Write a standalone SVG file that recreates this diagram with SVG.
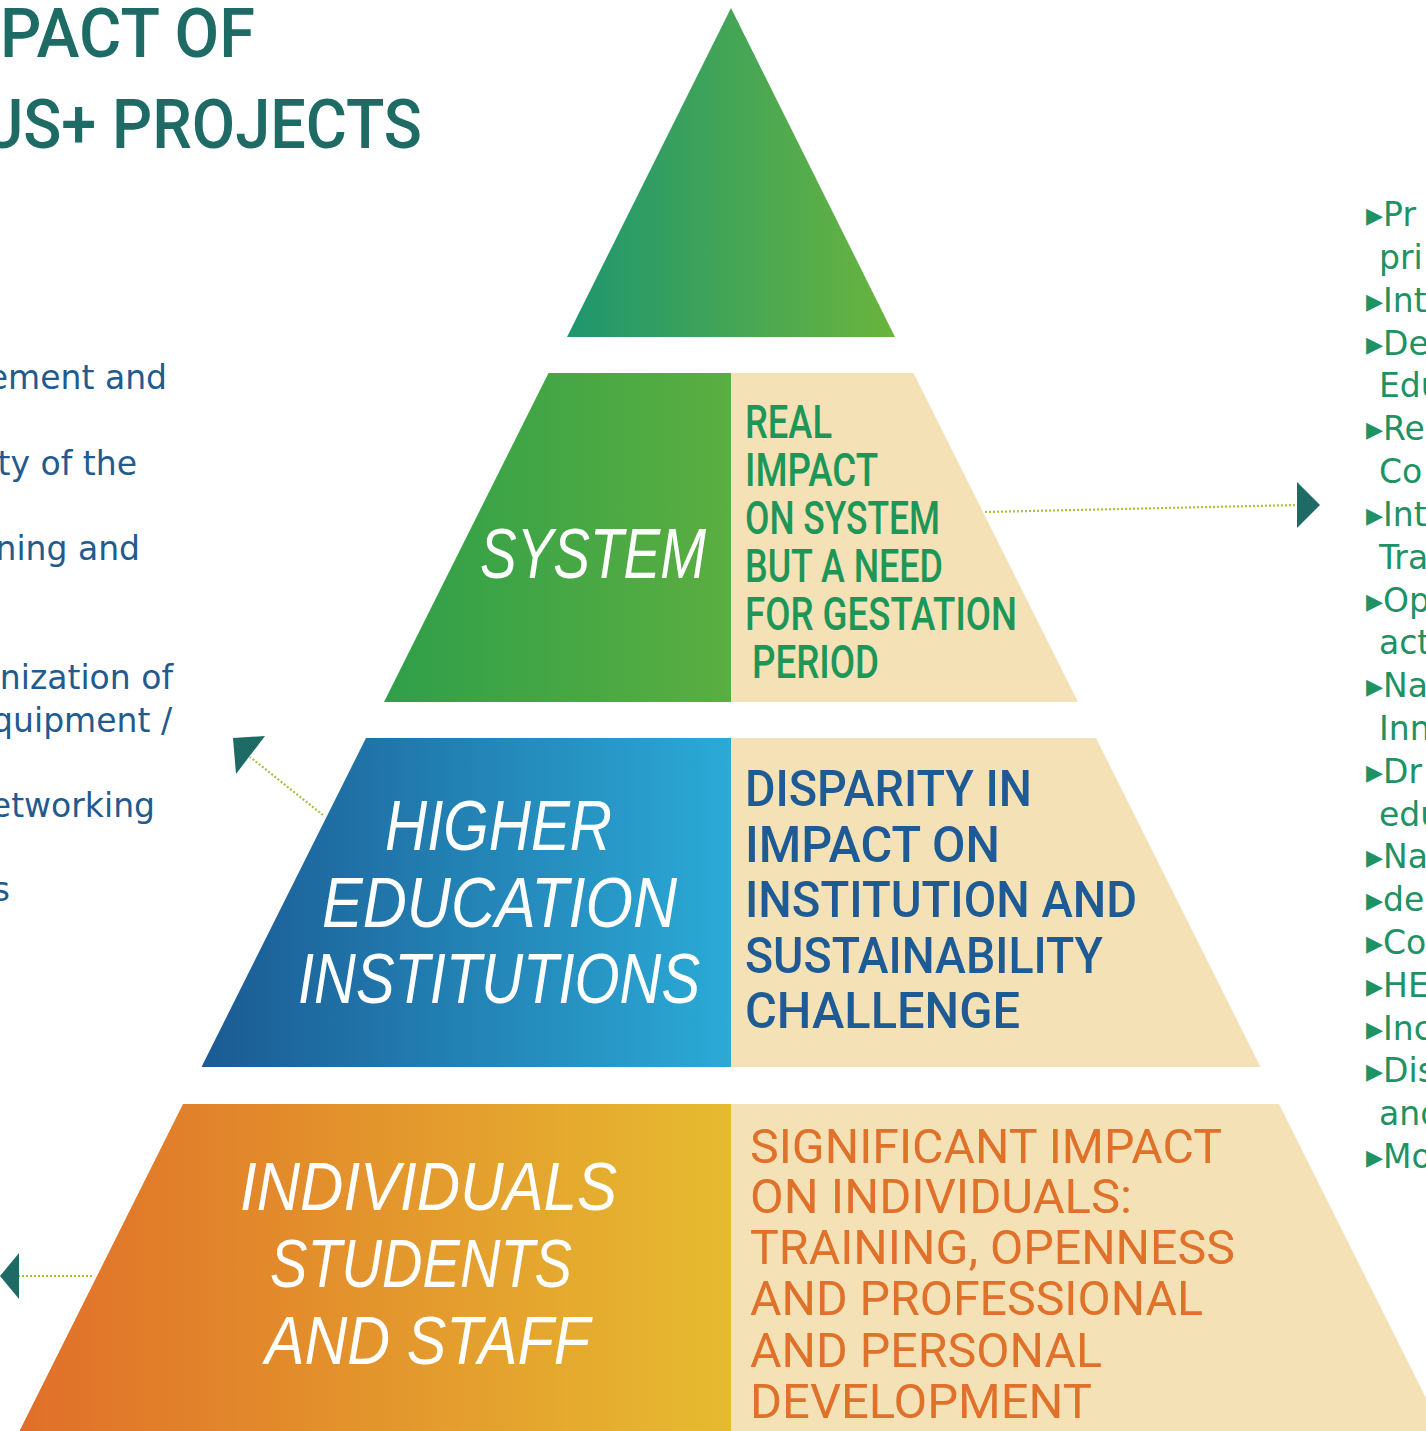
<svg xmlns="http://www.w3.org/2000/svg" width="1426" height="1431" viewBox="0 0 1426 1431">
<defs>
<linearGradient id="gTop" gradientUnits="userSpaceOnUse" x1="567" y1="0" x2="895" y2="0"><stop offset="0" stop-color="#1E9670"/><stop offset="1" stop-color="#6AB43D"/></linearGradient>
<linearGradient id="gSys" gradientUnits="userSpaceOnUse" x1="384" y1="0" x2="731" y2="0"><stop offset="0" stop-color="#2F9F4A"/><stop offset="1" stop-color="#5BAE40"/></linearGradient>
<linearGradient id="gHei" gradientUnits="userSpaceOnUse" x1="201" y1="0" x2="731" y2="0"><stop offset="0" stop-color="#1B5A93"/><stop offset="1" stop-color="#2BAAD6"/></linearGradient>
<linearGradient id="gInd" gradientUnits="userSpaceOnUse" x1="19" y1="0" x2="731" y2="0"><stop offset="0" stop-color="#E06F29"/><stop offset="1" stop-color="#E6BB30"/></linearGradient>
</defs>
<style>
.beige{fill:#F5E1B6}
.title{font-family:Roboto,"Liberation Sans",Arial,sans-serif;font-weight:500;font-size:68px;fill:#1E6B66}
.lst{font-family:"DejaVu Sans","Noto Sans",sans-serif;font-size:33px;fill:#1F5B8F}
.rl{font-family:"DejaVu Sans","Noto Sans",sans-serif;font-size:33px;fill:#1E9263}
.b{font-size:34px}
.wi{font-family:"Liberation Sans",Arial,sans-serif;font-style:italic;fill:#FFFFFF}
.sysr{font-family:Roboto,"Liberation Sans",sans-serif;font-weight:500;font-size:46px;fill:#1E9657}
.heir{font-family:Roboto,"Liberation Sans",sans-serif;font-weight:500;font-size:50px;fill:#1E5A93}
.indr{font-family:Roboto,"Liberation Sans",sans-serif;font-weight:400;font-size:49px;fill:#E0712A}
.dot{stroke:#A4C23A;stroke-width:2.2;stroke-dasharray:2 2;fill:none}
.ah{fill:#1E6B66}
</style>
<g id="title">
<text class="title" x="0" y="57" textLength="255" lengthAdjust="spacingAndGlyphs">PACT OF</text>
<text class="title" x="-18" y="148" textLength="440" lengthAdjust="spacingAndGlyphs">US+ PROJECTS</text>
</g>
<g id="left-list" text-anchor="end">
<text class="lst" x="167" y="389">ement and</text>
<text class="lst" x="137" y="475">ty of the</text>
<text class="lst" x="140" y="560">ning and</text>
<text class="lst" x="173" y="689">nization of</text>
<text class="lst" x="172" y="732">quipment /</text>
<text class="lst" x="155" y="817">etworking</text>
<text class="lst" x="10" y="901">s</text>
</g>
<g id="right-list">
<text class="rl" x="1366" y="226"><tspan class="b">▸</tspan>Pr</text>
<text class="rl" x="1379" y="269">pri</text>
<text class="rl" x="1366" y="312"><tspan class="b">▸</tspan>Int</text>
<text class="rl" x="1366" y="355"><tspan class="b">▸</tspan>De</text>
<text class="rl" x="1379" y="397">Edu</text>
<text class="rl" x="1366" y="440"><tspan class="b">▸</tspan>Re</text>
<text class="rl" x="1379" y="483">Co</text>
<text class="rl" x="1366" y="526"><tspan class="b">▸</tspan>Int</text>
<text class="rl" x="1379" y="569">Tra</text>
<text class="rl" x="1366" y="612"><tspan class="b">▸</tspan>Op</text>
<text class="rl" x="1379" y="654">act</text>
<text class="rl" x="1366" y="697"><tspan class="b">▸</tspan>Na</text>
<text class="rl" x="1379" y="740">Inn</text>
<text class="rl" x="1366" y="783"><tspan class="b">▸</tspan>Dr</text>
<text class="rl" x="1379" y="826">edu</text>
<text class="rl" x="1366" y="868"><tspan class="b">▸</tspan>Na</text>
<text class="rl" x="1366" y="911"><tspan class="b">▸</tspan>de</text>
<text class="rl" x="1366" y="954"><tspan class="b">▸</tspan>Co</text>
<text class="rl" x="1366" y="997"><tspan class="b">▸</tspan>HE</text>
<text class="rl" x="1366" y="1040"><tspan class="b">▸</tspan>Inc</text>
<text class="rl" x="1366" y="1082"><tspan class="b">▸</tspan>Dis</text>
<text class="rl" x="1379" y="1125">and</text>
<text class="rl" x="1366" y="1168"><tspan class="b">▸</tspan>Mo</text>
</g>
<g id="apex">
<polygon points="731,8 895,337 567,337" fill="url(#gTop)"/>
</g>
<g id="system">
<polygon points="548.5,373 731,373 731,702 384,702" fill="url(#gSys)"/>
<polygon class="beige" points="731,373 913.5,373 1078,702 731,702"/>
<text class="wi" x="480" y="578" font-size="70" textLength="226" lengthAdjust="spacingAndGlyphs">SYSTEM</text>
<text class="sysr" x="745" y="438" textLength="87" lengthAdjust="spacingAndGlyphs">REAL</text>
<text class="sysr" x="745" y="486" textLength="133" lengthAdjust="spacingAndGlyphs">IMPACT</text>
<text class="sysr" x="745" y="534" textLength="195" lengthAdjust="spacingAndGlyphs">ON SYSTEM</text>
<text class="sysr" x="745" y="582" textLength="198" lengthAdjust="spacingAndGlyphs">BUT A NEED</text>
<text class="sysr" x="745" y="630" textLength="272" lengthAdjust="spacingAndGlyphs">FOR GESTATION</text>
<text class="sysr" x="752" y="678" textLength="127" lengthAdjust="spacingAndGlyphs">PERIOD</text>
</g>
<g id="hei">
<polygon points="366,738 731,738 731,1067 201.5,1067" fill="url(#gHei)"/>
<polygon class="beige" points="731,738 1096,738 1260.5,1067 731,1067"/>
<text class="wi" x="385" y="850" font-size="70" textLength="227" lengthAdjust="spacingAndGlyphs">HIGHER</text>
<text class="wi" x="322" y="927" font-size="70" textLength="355" lengthAdjust="spacingAndGlyphs">EDUCATION</text>
<text class="wi" x="298" y="1003" font-size="70" textLength="402" lengthAdjust="spacingAndGlyphs">INSTITUTIONS</text>
<text class="heir" x="745" y="806" textLength="287" lengthAdjust="spacingAndGlyphs">DISPARITY IN</text>
<text class="heir" x="745" y="862" textLength="255" lengthAdjust="spacingAndGlyphs">IMPACT ON</text>
<text class="heir" x="745" y="917" textLength="392" lengthAdjust="spacingAndGlyphs">INSTITUTION AND</text>
<text class="heir" x="745" y="973" textLength="358" lengthAdjust="spacingAndGlyphs">SUSTAINABILITY</text>
<text class="heir" x="745" y="1028" textLength="275" lengthAdjust="spacingAndGlyphs">CHALLENGE</text>
</g>
<g id="individuals">
<polygon points="183,1104 731,1104 731,1431 19.5,1431" fill="url(#gInd)"/>
<polygon class="beige" points="731,1104 1279,1104 1442.5,1431 731,1431"/>
<text class="wi" x="240" y="1210" font-size="68" textLength="377" lengthAdjust="spacingAndGlyphs">INDIVIDUALS</text>
<text class="wi" x="270" y="1287" font-size="68" textLength="302" lengthAdjust="spacingAndGlyphs">STUDENTS</text>
<text class="wi" x="265" y="1364" font-size="68" textLength="325" lengthAdjust="spacingAndGlyphs">AND STAFF</text>
<text class="indr" x="750" y="1163" textLength="472" lengthAdjust="spacingAndGlyphs">SIGNIFICANT IMPACT</text>
<text class="indr" x="750" y="1213" textLength="382" lengthAdjust="spacingAndGlyphs">ON INDIVIDUALS:</text>
<text class="indr" x="750" y="1264" textLength="485" lengthAdjust="spacingAndGlyphs">TRAINING, OPENNESS</text>
<text class="indr" x="750" y="1315" textLength="453" lengthAdjust="spacingAndGlyphs">AND PROFESSIONAL</text>
<text class="indr" x="750" y="1367" textLength="352" lengthAdjust="spacingAndGlyphs">AND PERSONAL</text>
<text class="indr" x="750" y="1418" textLength="342" lengthAdjust="spacingAndGlyphs">DEVELOPMENT</text>
</g>
<g id="connectors">
<line class="dot" x1="985" y1="512" x2="1298" y2="505"/>
<polygon class="ah" points="1297,482 1320,505 1297,528"/>
<line class="dot" x1="323" y1="815" x2="250" y2="757"/>
<polygon class="ah" points="233,738 265,736 236,774"/>
<line class="dot" x1="92" y1="1276" x2="19" y2="1276"/>
<polygon class="ah" points="0,1276 19,1253 19,1299"/>
</g>
</svg>
